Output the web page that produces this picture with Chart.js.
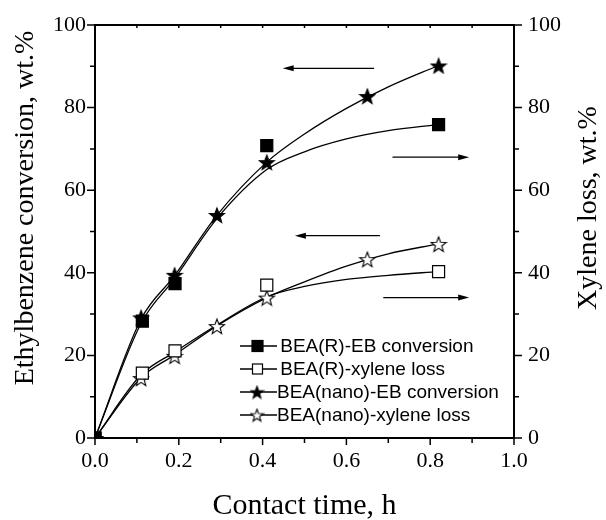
<!DOCTYPE html>
<html>
<head>
<meta charset="utf-8">
<script src="https://cdn.jsdelivr.net/npm/chart.js@4.4.0/dist/chart.umd.min.js"></script>
<style>
  html, body { margin: 0; padding: 0; background: #fff; }
</style>
</head>
<body>
<canvas id="chart" width="606" height="520"></canvas>
<script>
// Measured points
const xR = [0, 0.113, 0.191, 0.41, 0.82];
const rEB = [0, 28.3, 37.4, 70.8, 75.9];
const rXyl = [0, 15.7, 21.1, 37.0, 40.3];

const xNano = [0, 0.11, 0.19, 0.291, 0.41, 0.65, 0.82];
const nanoEB = [0, 29.2, 39.5, 54.0, 66.8, 82.8, 90.2];
const nanoXyl = [0, 14.5, 19.9, 27.1, 34.0, 43.3, 47.0];

// Fitted curves
const xFit = [0, 0.11, 0.19, 0.29, 0.41, 0.5, 0.6, 0.7, 0.82];
const rEBFit = [0, 27.8, 38.6, 53.0, 65.0, 69.3, 72.4, 74.4, 75.9];
const nanoEBFit = [0, 28.8, 39.3, 53.8, 66.8, 73.6, 79.8, 85.0, 90.2];
const rXylFit = [0, 15.3, 20.8, 27.3, 34.2, 36.7, 38.4, 39.4, 40.3];
const nanoXylFit = [0, 14.6, 20.1, 27.1, 34.0, 37.8, 41.6, 44.6, 47.0];

const labels = [
  "BEA(R)-EB conversion",
  "BEA(R)-xylene loss",
  "BEA(nano)-EB conversion",
  "BEA(nano)-xylene loss",
];

const xTickLabels = ["0.0", "0.2", "0.4", "0.6", "0.8", "1.0"];
const yTickLabels = ["0", "20", "40", "60", "80", "100"];

// Arrows: y value, from x, to x
const arrowY = [89.5, 68, 49, 34];
const arrowFrom = [0.666, 0.71, 0.68, 0.688];
const arrowTo = [0.448, 0.893, 0.477, 0.893];

const SERIF = "'Liberation Serif', 'Times New Roman', serif";
const SANS = "'Liberation Sans', Arial, sans-serif";

function makeStar(filled, size) {
  const c = document.createElement("canvas");
  c.width = size + 2;
  c.height = size + 2;
  const g = c.getContext("2d");
  const cx = c.width / 2, cy = c.height / 2 + size * 0.06;
  const ro = size / 2, ri = ro * 0.42;
  g.beginPath();
  for (let i = 0; i < 10; i++) {
    const r = i % 2 === 0 ? ro : ri;
    const a = -Math.PI / 2 + (i * Math.PI) / 5;
    const px = cx + r * Math.cos(a), py = cy + r * Math.sin(a);
    if (i === 0) g.moveTo(px, py); else g.lineTo(px, py);
  }
  g.closePath();
  g.fillStyle = filled ? "#000" : "#fff";
  g.fill();
  g.lineWidth = 1.1;
  g.strokeStyle = "#000";
  g.stroke();
  return c;
}

const starFull = makeStar(true, 16);
const starOpen = makeStar(false, 16);
const starFullSm = makeStar(true, 13);
const starOpenSm = makeStar(false, 13);

const pts = (xs, ys) => xs.map((x, i) => ({ x: x, y: ys[i] }));

function fitLine(xs, ys, axis) {
  return {
    data: pts(xs, ys),
    yAxisID: axis,
    showLine: true,
    borderColor: "#000",
    borderWidth: 1.3,
    pointRadius: 0,
    cubicInterpolationMode: "monotone",
    order: 2,
  };
}

function markers(xs, ys, axis, style, fill) {
  return {
    data: pts(xs, ys),
    yAxisID: axis,
    showLine: false,
    pointStyle: style,
    pointRadius: 8.5,
    pointBackgroundColor: fill,
    pointBorderColor: "#000",
    pointBorderWidth: 1.2,
    order: 1,
  };
}

const legendMarks = [
  { kind: "rect", fill: "#000" },
  { kind: "rect", fill: "#fff" },
  { kind: "img", img: starFullSm },
  { kind: "img", img: starOpenSm },
];

const decor = {
  id: "decor",
  afterDatasetsDraw(chart) {
    const { ctx, chartArea: a, scales } = chart;
    const xs = scales.x, ys = scales.y;
    ctx.save();
    ctx.strokeStyle = "#000";
    ctx.fillStyle = "#000";

    // frame
    ctx.lineWidth = 2;
    ctx.strokeRect(a.left, a.top, a.right - a.left, a.bottom - a.top);

    // tick marks (major longer, minor shorter)
    ctx.lineWidth = 1.5;
    ctx.beginPath();
    xs.ticks.forEach((t, i) => {
      const px = xs.getPixelForValue(t.value);
      const len = i % 2 === 0 ? 7 : 5;
      ctx.moveTo(px, a.bottom);
      ctx.lineTo(px, a.bottom + len);
      ctx.moveTo(px, a.top);
      ctx.lineTo(px, a.top + 3);
    });
    ys.ticks.forEach((t, i) => {
      const py = ys.getPixelForValue(t.value);
      const len = i % 2 === 0 ? 8 : 5;
      ctx.moveTo(a.left, py);
      ctx.lineTo(a.left - len, py);
      ctx.moveTo(a.right, py);
      ctx.lineTo(a.right + len, py);
    });
    ctx.stroke();

    // arrows
    ctx.lineWidth = 1.3;
    arrowY.forEach((v, i) => {
      const py = ys.getPixelForValue(v);
      const x0 = xs.getPixelForValue(arrowFrom[i]);
      const x1 = xs.getPixelForValue(arrowTo[i]);
      const dir = Math.sign(x1 - x0);
      ctx.beginPath();
      ctx.moveTo(x0, py);
      ctx.lineTo(x1 - dir * 8, py);
      ctx.stroke();
      ctx.beginPath();
      ctx.moveTo(x1, py);
      ctx.lineTo(x1 - dir * 11, py - 3);
      ctx.lineTo(x1 - dir * 11, py + 3);
      ctx.closePath();
      ctx.fill();
    });

    // legend
    ctx.font = "19px " + SANS;
    ctx.textBaseline = "middle";
    ctx.textAlign = "left";
    labels.forEach((lab, i) => {
      const ly = 346 + i * 23;
      ctx.lineWidth = 1.3;
      ctx.beginPath();
      ctx.moveTo(240, ly);
      ctx.lineTo(277, ly);
      ctx.stroke();
      const m = legendMarks[i];
      if (m.kind === "rect") {
        ctx.fillStyle = m.fill;
        const s = i === 0 ? 11 : 10;
        ctx.fillRect(257.5 - s / 2, ly - s / 2, s, s);
        ctx.lineWidth = 1.2;
        ctx.strokeRect(257.5 - s / 2, ly - s / 2, s, s);
      } else {
        ctx.drawImage(m.img, 257 - m.img.width / 2, ly - m.img.height / 2);
      }
      ctx.fillStyle = "#000";
      ctx.fillText(i < 2 ? " " + lab : lab, i < 2 ? 275 : 277, ly + 1);
    });

    // axis titles
    ctx.font = "28px " + SERIF;
    ctx.textAlign = "center";
    ctx.textBaseline = "middle";
    ctx.save();
    ctx.translate(26, 208);
    ctx.rotate(-Math.PI / 2);
    ctx.fillText("Ethylbenzene conversion, wt.%", 0, 0);
    ctx.restore();
    ctx.save();
    ctx.translate(589, 208);
    ctx.rotate(-Math.PI / 2);
    ctx.fillText("Xylene loss, wt.%", 0, 0);
    ctx.restore();
    ctx.font = "30px " + SERIF;
    ctx.textBaseline = "alphabetic";
    ctx.fillText("Contact time, h", (a.left + a.right) / 2, 514);

    ctx.restore();
  },
};

const hiddenGrid = {
  display: true,
  drawOnChartArea: false,
  drawTicks: true,
  tickLength: 8,
  tickColor: "rgba(0,0,0,0)",
};

new Chart(document.getElementById("chart"), {
  type: "scatter",
  data: {
    datasets: [
      fitLine(xFit, rEBFit, "y"),
      fitLine(xFit, nanoEBFit, "y"),
      fitLine(xFit, rXylFit, "y2"),
      fitLine(xFit, nanoXylFit, "y2"),
      markers(xR, rEB, "y", "rect", "#000"),
      markers(xR, rXyl, "y2", "rect", "#fff"),
      markers(xNano, nanoEB, "y", starFull, "#000"),
      markers(xNano, nanoXyl, "y2", starOpen, "#fff"),
    ],
  },
  options: {
    responsive: false,
    animation: false,
    layout: { padding: { top: 25, left: 0, right: 0, bottom: 0 } },
    plugins: {
      legend: { display: false },
      tooltip: { enabled: false },
    },
    scales: {
      x: {
        type: "linear",
        position: "bottom",
        min: 0,
        max: 1,
        grid: hiddenGrid,
        border: { display: false },
        ticks: {
          stepSize: 0.1,
          color: "#000",
          font: { family: SERIF, size: 22 },
          padding: 2,
          maxRotation: 0,
          autoSkip: false,
          callback: (v, i) => (i % 2 === 0 ? xTickLabels[i / 2] : ""),
        },
        afterFit: (s) => { s.height = 82; },
      },
      y: {
        position: "left",
        min: 0,
        max: 100,
        grid: hiddenGrid,
        border: { display: false },
        ticks: {
          stepSize: 10,
          color: "#000",
          font: { family: SERIF, size: 22 },
          padding: 1,
          autoSkip: false,
          callback: (v, i) => (i % 2 === 0 ? yTickLabels[i / 2] : ""),
        },
        afterFit: (s) => { s.width = 95; },
      },
      y2: {
        position: "right",
        min: 0,
        max: 100,
        grid: hiddenGrid,
        border: { display: false },
        ticks: {
          stepSize: 10,
          color: "#000",
          font: { family: SERIF, size: 22 },
          padding: 6,
          autoSkip: false,
          callback: (v, i) => (i % 2 === 0 ? yTickLabels[i / 2] : ""),
        },
        afterFit: (s) => { s.width = 92; },
      },
    },
  },
  plugins: [decor],
});
</script>
</body>
</html>
